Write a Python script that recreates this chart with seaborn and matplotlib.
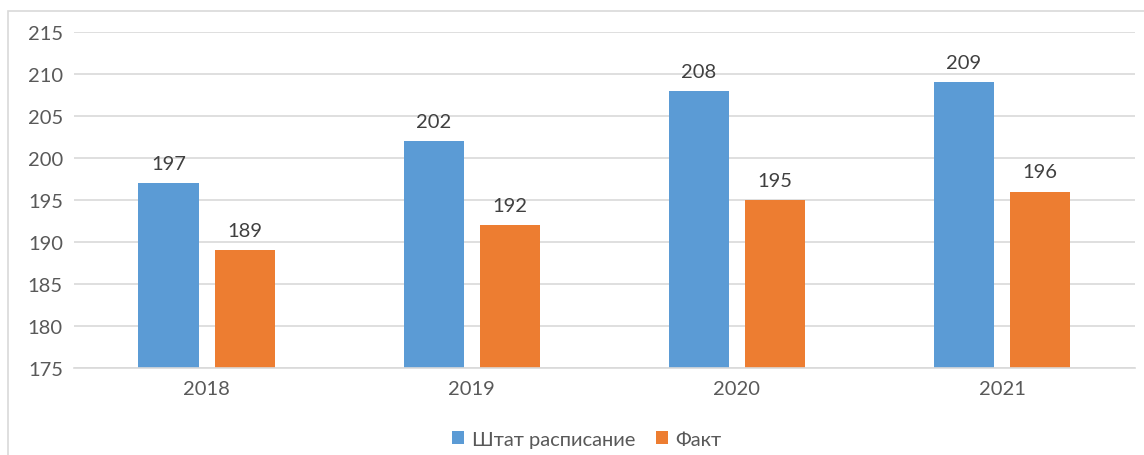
import matplotlib
matplotlib.use("Agg")
import matplotlib.pyplot as plt
import seaborn as sns
import pandas as pd
from matplotlib.patches import Rectangle

years = ["2018", "2019", "2020", "2021"]
series_names = ["Штат расписание", "Факт"]
shtat = [197, 202, 208, 209]
fakt = [189, 192, 195, 196]
colors = ["#5B9BD5", "#ED7D31"]

df = pd.DataFrame({
    "year": years * 2,
    "value": shtat + fakt,
    "series": [series_names[0]] * 4 + [series_names[1]] * 4,
})

sns.set_theme(style="white")
plt.rcParams["font.family"] = ["Lato", "DejaVu Sans"]
text_color = "#595959"
label_color = "#404040"
grid_color = "#D9D9D9"

fig = plt.figure(figsize=(11.44, 4.56), dpi=100)
ax = fig.add_axes([0.0647, 0.1908, 0.927, 0.7368])

sns.barplot(data=df, x="year", y="value", hue="series", palette=colors,
            width=0.574, gap=0.21, saturation=1, linewidth=0, ax=ax, legend=True)

ax.set_ylim(175, 215)
ax.set_yticks(range(175, 216, 5))
ax.set_xlim(-0.5, 3.5)
ax.set_xlabel("")
ax.set_ylabel("")
ax.yaxis.grid(True, color=grid_color, linewidth=1.2)
ax.set_axisbelow(True)
for s in ["left", "right", "top"]:
    ax.spines[s].set_visible(False)
ax.spines["bottom"].set_color(grid_color)
ax.spines["bottom"].set_linewidth(1.2)
ax.tick_params(axis="both", length=0, labelsize=14.5, colors=text_color, pad=8)
ax.tick_params(axis="x", pad=9)

for cont in ax.containers:
    ax.bar_label(cont, fmt="%d", padding=8, fontsize=14.5, color=label_color)

handles, labels = ax.get_legend_handles_labels()
ax.legend_.remove()
fig.legend(handles, labels, loc="center", bbox_to_anchor=(0.513, 0.035), ncol=2,
           frameon=False, fontsize=14.5, labelcolor=text_color,
           handlelength=0.6, handleheight=0.6, handletextpad=0.4, columnspacing=1.0)

fig.patches.append(Rectangle((8 / 1144, -0.1), 1.2, 1 - 12 / 456 + 0.1,
                             transform=fig.transFigure, fill=False,
                             edgecolor=grid_color, linewidth=1.2))

fig.savefig("out.png", dpi=100)
